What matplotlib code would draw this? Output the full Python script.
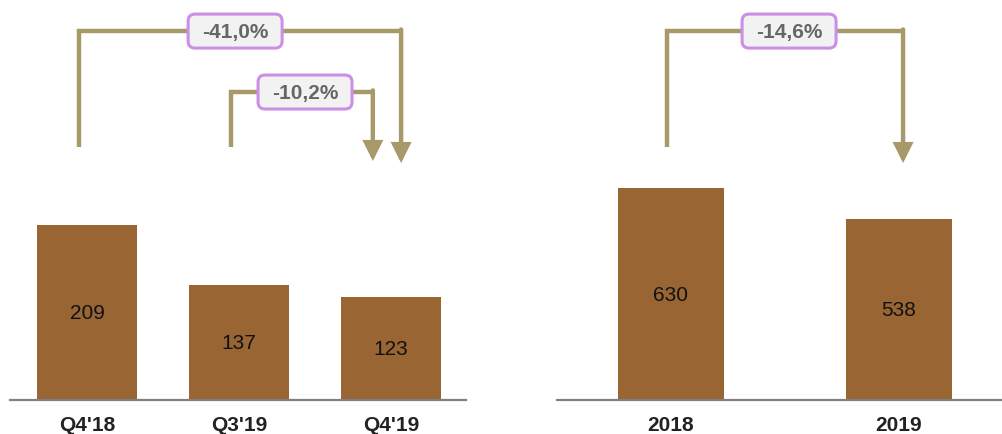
import matplotlib.pyplot as plt
from matplotlib.patches import FancyBboxPatch
from matplotlib.transforms import IdentityTransform

plt.rcParams['font.family'] = ['Liberation Sans', 'DejaVu Sans']

# quarterly figures
quarters = ["Q4'18", "Q3'19", "Q4'19"]
quarter_vals = [209, 137, 123]
# yearly figures
years = ["2018", "2019"]
year_vals = [630, 538]
# change labels
chg_q4 = "-41,0%"
chg_q3 = "-10,2%"
chg_year = "-14,6%"

bar_color = '#996633'
line_color = '#A8996A'
W, H = 1002, 435

fig = plt.figure(figsize=(W / 100, H / 100), dpi=100)


def make_axes(x0, x1, top_px, base_px):
    return fig.add_axes([x0 / W, 1 - base_px / H, (x1 - x0) / W, (base_px - top_px) / H])


def style(ax):
    for s in ['top', 'left', 'right']:
        ax.spines[s].set_visible(False)
    ax.spines['bottom'].set_color('#808080')
    ax.spines['bottom'].set_linewidth(1.6)
    ax.set_yticks([])
    ax.tick_params(axis='x', length=0, pad=11)
    for lab in ax.get_xticklabels():
        lab.set_fontweight('bold')
        lab.set_fontsize(15)
        lab.set_color('#222222')


def bracket(ax, x_left, x_right, y_top, y_leg, y_tip, label, x_label):
    tr = ax.get_xaxis_transform()
    ax.plot([x_left, x_left, x_right], [y_leg, y_top, y_top], color=line_color,
            lw=3.2, transform=tr, solid_joinstyle='miter', solid_capstyle='butt',
            clip_on=False)
    ax.annotate('', xy=(x_right, y_tip), xytext=(x_right, y_top + 0.004),
                xycoords=tr, textcoords=tr,
                arrowprops=dict(arrowstyle='-|>,head_length=1.0,head_width=0.5',
                                mutation_scale=10, color=line_color, lw=3.2,
                                shrinkA=0, shrinkB=0, joinstyle='miter'))
    # label box, sized in pixels
    cx, cy = tr.transform((x_label, y_top))
    bw, bh = 94, 34
    box = FancyBboxPatch((cx - bw / 2, cy - bh / 2), bw, bh,
                         boxstyle='round,pad=0,rounding_size=7',
                         fc='#F2F2F2', ec='#CC8FE6', lw=2.2,
                         transform=IdentityTransform(), zorder=4)
    ax.add_patch(box)
    ax.text(x_label, y_top, label, transform=tr, ha='center', va='center',
            fontsize=15, fontweight='bold', color='#666666', zorder=5)


def bar_labels(ax, bars, vals):
    for b, v in zip(bars, vals):
        ax.text(b.get_x() + b.get_width() / 2, v / 2, str(v), ha='center',
                va='center', fontsize=15, color='#111111')


# quarterly panel
ax1 = make_axes(10, 466, 0, 401)
b1 = ax1.bar(range(len(quarters)), quarter_vals, width=0.66, color=bar_color)
ax1.set_xlim(-0.507, 2.493)
ax1.set_ylim(0, 401 / 0.837)
ax1.set_xticks(range(len(quarters)))
ax1.set_xticklabels(quarters)
style(ax1)
bar_labels(ax1, b1, quarter_vals)
bracket(ax1, -0.053, 2.066, 0.92, 0.631, 0.591, chg_q4, 0.974)
bracket(ax1, 0.947, 1.88, 0.768, 0.631, 0.596, chg_q3, 1.434)

# yearly panel
ax2 = make_axes(557, 1002, 0, 401)
b2 = ax2.bar(range(len(years)), year_vals, width=0.465, color=bar_color)
ax2.set_xlim(-0.5, 1.452)
ax2.set_ylim(0, 401 / 0.3365)
ax2.set_xticks(range(len(years)))
ax2.set_xticklabels(years)
style(ax2)
bar_labels(ax2, b2, year_vals)
bracket(ax2, -0.018, 1.018, 0.92, 0.631, 0.591, chg_year, 0.518)

fig.savefig('out.png', dpi=100)
